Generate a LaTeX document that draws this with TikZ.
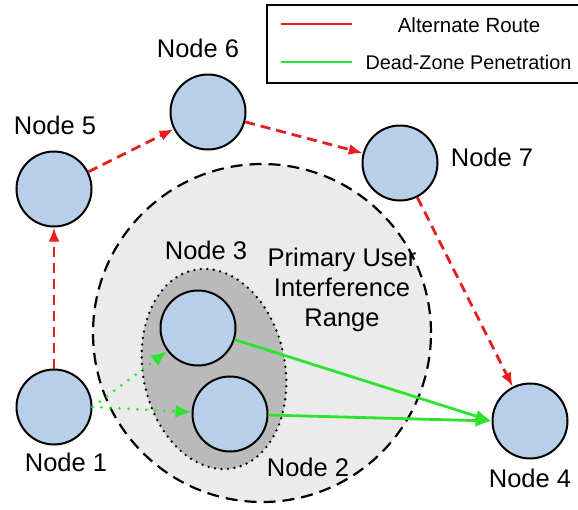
\documentclass[tikz,border=0pt]{standalone}
\usepackage{fontspec}
\setmainfont{Liberation Sans}
\usetikzlibrary{arrows.meta}
\definecolor{hostblue}{RGB}{183,207,232}
\definecolor{routered}{RGB}{232,30,30}
\definecolor{zonegreen}{RGB}{45,228,45}
\tikzset{host/.style={circle,draw=black,line width=2pt,fill=hostblue,minimum size=75pt,inner sep=0pt},
         hostname/.style={font=\fontsize{25.5}{30}\selectfont},
         altroute/.style={-{Latex[length=14pt,width=11pt]},routered,line width=2.8pt,dash pattern=on 10pt off 6pt},
         deadzone/.style={-{Latex[length=16pt,width=13pt]},zonegreen,line width=2.8pt},
         deadhop/.style={-{Latex[length=16pt,width=13pt]},zonegreen,line width=3pt,line cap=round,dash pattern=on 0pt off 9pt}}

\begin{document}
\begin{tikzpicture}[x=1pt,y=-1pt]
\useasboundingbox (0,0) rectangle (578,509);
\fill[white] (0,0) rectangle (578,509);
% interference range and dead zone
\draw[fill=black!8,line width=2.2pt,dash pattern=on 12pt off 7pt] (262,333) circle (169pt);
\draw[fill=black!27,line width=2.6pt,line cap=round,dash pattern=on 0pt off 6.5pt] (214,369) ellipse [x radius=71pt,y radius=101pt,rotate=11];
\node[font=\fontsize{25.5}{30}\selectfont,align=center] (range) at (342,290) {Primary User\\Interference\\Range};

\node[host] (n1) at (54,407) {};
\node[host] (n2) at (230,414) {};
\node[host] (n3) at (198,328) {};
\node[host] (n4) at (530,421) {};
\node[host] (n5) at (54,189) {};
\node[host] (n6) at (208,112) {};
\node[host] (n7) at (400,163) {};

\node[hostname] (l1) at (66,462) {Node 1};
\node[hostname] (l2) at (308,467) {Node 2};
\node[hostname] (l3) at (206,250) {Node 3};
\node[hostname] (l4) at (530,478) {Node 4};
\node[hostname] (l5) at (55,125) {Node 5};
\node[hostname] (l6) at (198,48) {Node 6};
\node[hostname] (l7) at (492,157) {Node 7};

\draw[altroute] (n1) -- (n5);
\draw[altroute] (n5) -- (n6);
\draw[altroute] (n6) -- (n7);
\draw[altroute] (n7) -- (n4);
\draw[deadhop] (n1.east) -- (n3);
\draw[deadhop] (n1.east) -- (n2);
\draw[deadzone] (n3) -- (n4.west);
\draw[deadzone] (n2) -- (n4.west);

% legend
\draw[line width=1.8pt,fill=white] (267,5) rectangle (600,83);
\coordinate (ra) at (281,24);
\coordinate (rb) at (352,24);
\coordinate (ga) at (281,62);
\coordinate (gb) at (352,62);
\draw[routered,line width=2.6pt] (ra) -- (rb);
\draw[zonegreen,line width=2.6pt] (ga) -- (gb);
\node[font=\fontsize{20.5}{24}\selectfont] (alt) at (469,25) {Alternate Route};
\node[font=\fontsize{19.8}{24}\selectfont,anchor=west] (dzp) at (362,62) {Dead-Zone Penetration};
\end{tikzpicture}
\end{document}
